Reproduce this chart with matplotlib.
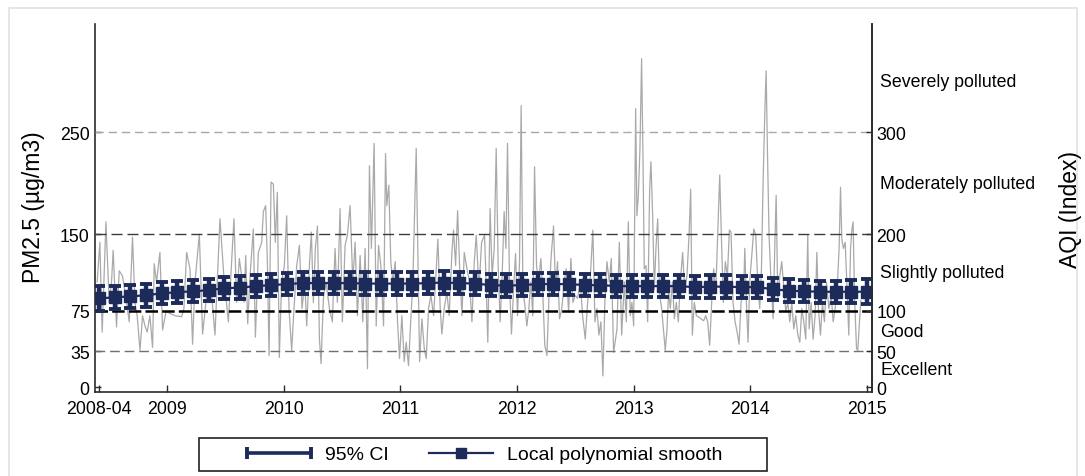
import numpy as np
import matplotlib
matplotlib.use("Agg")
import matplotlib.pyplot as plt
from matplotlib.lines import Line2D
from matplotlib.legend_handler import HandlerLine2D
from matplotlib.patches import Rectangle

plt.rcParams['font.family'] = ['Liberation Sans', 'DejaVu Sans']
plt.rcParams['lines.scale_dashes'] = False

# ---------------- data (PM2.5, decimal years) ----------------
t_2008 = [2008.399, 2008.422, 2008.442, 2008.474, 2008.502, 2008.522, 2008.536, 2008.565, 2008.588, 2008.616,
          2008.642, 2008.674, 2008.702, 2008.723, 2008.742, 2008.766, 2008.788, 2008.809, 2008.828, 2008.851,
          2008.874, 2008.888, 2008.908, 2008.937, 2008.960, 2008.989, 2009.066, 2009.123, 2009.143, 2009.166,
          2009.195, 2009.217, 2009.238, 2009.275, 2009.303, 2009.338, 2009.380, 2009.409, 2009.452, 2009.487]
pm_2008 = [103, 142, 54, 162, 83, 103, 134, 59, 114, 109, 90, 64, 147, 83, 70, 36, 70, 60, 54, 70,
           39, 121, 103, 132, 56, 74, 70, 69, 77, 132, 116, 42, 103, 150, 52, 90, 92, 51, 165, 106]

t_2009 = [2009.524, 2009.552, 2009.572, 2009.595, 2009.618, 2009.638, 2009.658, 2009.673, 2009.690, 2009.710,
          2009.738, 2009.756, 2009.781, 2009.810, 2009.824, 2009.844, 2009.858, 2009.873, 2009.890, 2009.910,
          2009.927, 2009.944, 2009.961, 2009.981, 2010.004, 2010.024, 2010.044, 2010.067, 2010.087, 2010.110,
          2010.133, 2010.156, 2010.179, 2010.196, 2010.219, 2010.236, 2010.253, 2010.270, 2010.288, 2010.305,
          2010.319, 2010.339, 2010.362, 2010.391, 2010.416, 2010.439, 2010.459, 2010.482, 2010.502, 2010.525,
          2010.545, 2010.568, 2010.591]
pm_2009 = [64, 123, 165, 83, 126, 109, 83, 129, 62, 109, 155, 49, 132, 142, 172, 178, 126, 31, 201, 199,
           142, 191, 29, 103, 119, 168, 77, 36, 77, 119, 139, 77, 103, 60, 119, 152, 83, 136, 158, 47,
           23, 87, 103, 77, 64, 136, 83, 175, 64, 139, 149, 178, 103]

t_2010 = [2010.611, 2010.631, 2010.654, 2010.677, 2010.697, 2010.717, 2010.734, 2010.751, 2010.774, 2010.792,
          2010.812, 2010.832, 2010.855, 2010.872, 2010.883, 2010.900, 2010.917, 2010.935, 2010.955, 2010.975,
          2010.992, 2011.012, 2011.032, 2011.049, 2011.069, 2011.089, 2011.106, 2011.123, 2011.135, 2011.149,
          2011.164, 2011.184, 2011.204, 2011.221, 2011.241, 2011.261, 2011.284, 2011.301, 2011.321, 2011.341,
          2011.355, 2011.375, 2011.398, 2011.418, 2011.441, 2011.455, 2011.473, 2011.490, 2011.507, 2011.527,
          2011.547, 2011.570, 2011.593, 2011.613, 2011.633, 2011.650, 2011.673, 2011.696]
pm_2010 = [142, 70, 129, 64, 136, 18, 217, 136, 239, 60, 139, 119, 60, 229, 178, 198, 123, 103, 123, 64,
           28, 70, 25, 44, 21, 67, 103, 178, 234, 136, 25, 67, 38, 28, 77, 90, 70, 103, 145, 77,
           52, 77, 93, 70, 132, 154, 119, 173, 119, 70, 132, 116, 103, 64, 123, 149, 96, 142]

t_2011 = [2011.721, 2011.735, 2011.749, 2011.769, 2011.786, 2011.804, 2011.821, 2011.838, 2011.855, 2011.872,
          2011.889, 2011.904, 2011.918, 2011.935, 2011.952, 2011.970, 2011.987, 2012.004, 2012.021, 2012.035,
          2012.050, 2012.067, 2012.084, 2012.101, 2012.118, 2012.135, 2012.150, 2012.167, 2012.184, 2012.204,
          2012.221, 2012.238, 2012.256, 2012.273, 2012.293, 2012.313, 2012.330, 2012.347, 2012.364, 2012.384,
          2012.404, 2012.421, 2012.442, 2012.462, 2012.479, 2012.499, 2012.519, 2012.542, 2012.562, 2012.585,
          2012.605, 2012.627, 2012.650, 2012.668, 2012.685, 2012.702, 2012.719, 2012.736, 2012.753, 2012.771,
          2012.791, 2012.808, 2012.828]
pm_2011 = [149, 103, 44, 175, 109, 136, 234, 119, 64, 109, 172, 136, 239, 103, 52, 96, 131, 70, 123, 276,
           96, 80, 60, 77, 103, 70, 216, 119, 103, 126, 90, 41, 31, 87, 129, 158, 96, 123, 67, 77,
           103, 116, 74, 126, 83, 90, 87, 103, 70, 47, 83, 106, 154, 64, 77, 51, 64, 11, 83, 123,
           103, 126, 34]

t_2012 = [2012.857, 2012.877, 2012.897, 2012.920, 2012.937, 2012.954, 2012.971, 2012.985, 2013.000, 2013.017,
          2013.028, 2013.040, 2013.054, 2013.068, 2013.080, 2013.091, 2013.106, 2013.120, 2013.137, 2013.148,
          2013.163, 2013.177, 2013.191, 2013.206, 2013.223, 2013.240, 2013.257, 2013.271, 2013.286, 2013.300,
          2013.314, 2013.332, 2013.349, 2013.366, 2013.383, 2013.400, 2013.420, 2013.437, 2013.457, 2013.475,
          2013.489, 2013.503, 2013.520, 2013.538, 2013.555, 2013.578, 2013.600, 2013.618, 2013.635, 2013.652,
          2013.669, 2013.686, 2013.704, 2013.721, 2013.738, 2013.752, 2013.769, 2013.786, 2013.804, 2013.821,
          2013.835, 2013.852, 2013.870, 2013.887, 2013.904, 2013.921, 2013.944]
pm_2012 = [57, 142, 51, 103, 64, 162, 70, 83, 60, 273, 168, 188, 234, 322, 224, 116, 119, 64, 194, 221,
           168, 96, 136, 165, 90, 77, 54, 36, 57, 96, 77, 103, 67, 83, 64, 103, 132, 96, 109, 149,
           194, 51, 83, 70, 69, 67, 65, 70, 64, 41, 83, 116, 93, 149, 208, 149, 83, 123, 109, 154,
           152, 83, 64, 54, 42, 83, 96]

t_2014 = [2013.953, 2013.967, 2013.981, 2013.995, 2014.013, 2014.030, 2014.047, 2014.064, 2014.081, 2014.096,
          2014.110, 2014.124, 2014.136, 2014.147, 2014.161, 2014.178, 2014.196, 2014.210, 2014.222, 2014.236,
          2014.253, 2014.270, 2014.288, 2014.305, 2014.322, 2014.339, 2014.356, 2014.373, 2014.390, 2014.408,
          2014.425, 2014.442, 2014.459, 2014.476, 2014.493, 2014.505, 2014.522, 2014.539, 2014.556, 2014.571,
          2014.585, 2014.602, 2014.619, 2014.636, 2014.654, 2014.674, 2014.694, 2014.711, 2014.728, 2014.745,
          2014.762, 2014.774, 2014.785, 2014.799, 2014.814, 2014.828, 2014.845, 2014.860, 2014.871, 2014.882,
          2014.894, 2014.911, 2014.922, 2014.948]
pm_2014 = [136, 83, 44, 103, 129, 155, 149, 103, 77, 116, 201, 266, 310, 234, 149, 103, 67, 136, 188, 87,
           109, 123, 96, 74, 83, 64, 83, 57, 70, 51, 44, 77, 64, 47, 149, 57, 83, 47, 70, 132,
           77, 51, 83, 64, 103, 77, 90, 64, 77, 96, 136, 196, 145, 136, 142, 103, 51, 136, 154, 162,
           90, 38, 36, 85]

# local polynomial smooth (50 evaluation points from 2008-04 to 2015) and 95% CI half-widths
smooth_start, smooth_end = 2008.415, 2015.0
smooth_pm = [87, 88, 89, 90, 92, 93, 94, 95, 97, 97.5,
             99, 100, 101, 102, 102, 102, 102, 101.5, 101.5, 101.5,
             101.5, 102, 102.5, 102, 101.5, 100, 99.5, 100, 101, 101,
             101, 100, 100, 99, 99, 99, 99, 99, 98, 98.5,
             98.5, 98, 98, 96, 94.5, 94, 93.5, 93.5, 93.5, 93.5]
ci_half = [12, 11.5, 11, 11, 11, 11, 11, 11, 11, 11,
           11, 11, 11, 11, 11, 11, 11, 11, 11, 11,
           11, 11, 11, 11, 11, 11, 11, 11, 11, 11,
           11, 11, 11, 11, 11, 11, 11, 11, 11, 11,
           11, 11, 11, 11, 11, 11, 11, 11, 11.5, 12]

x_tick_pos = [2008.415, 2009, 2010, 2011, 2012, 2013, 2014, 2015]
x_tick_labels = ["2008-04", "2009", "2010", "2011", "2012", "2013", "2014", "2015"]
pm_ticks = [0, 35, 75, 150, 250]
aqi_ticks = [0, 50, 100, 200, 300]
band_labels = ["Excellent", "Good", "Slightly polluted", "Moderately polluted", "Severely polluted"]
band_mid_pm = [17.5, 55, 112.5, 200, 300]

# ---------------- figure ----------------
W, H = 1085, 477
fig = plt.figure(figsize=(W / 100, H / 100), dpi=100)
fig.patch.set_facecolor('white')

# outer light frame
fig.patches.append(Rectangle((9 / W, -0.1), (1077 - 9) / W, 1.1 - 9 / H, transform=fig.transFigure,
                             fill=False, ec='#dde3e8', lw=1.2))

ax = fig.add_axes([94.5 / W, 1 - 393 / H, (872 - 94.5) / W, (393 - 25) / H])
ax.set_xlim(2008.376, 2015.044)
ax.set_ylim(-4.8, 356)

navy = '#1c2b5a'
fs = 12.8

t_all = np.concatenate([t_2008, t_2009, t_2010, t_2011, t_2012, t_2014])
pm_all = np.concatenate([pm_2008, pm_2009, pm_2010, pm_2011, pm_2012, pm_2014])
ax.plot(t_all, pm_all, color='#a9a9a9', lw=0.9, zorder=2)

# reference lines
ax.axhline(250, color='#a8a8a8', lw=1.0, dashes=(6, 3.5), zorder=3)
ax.axhline(150, color='#3c3c3c', lw=1.0, dashes=(8, 3.5), zorder=3)
ax.axhline(75, color='#000000', lw=1.8, dashes=(9, 3), zorder=3)
ax.axhline(35, color='#707070', lw=1.0, dashes=(7, 3.5), zorder=3)

xs = np.linspace(smooth_start, smooth_end, len(smooth_pm))
ax.errorbar(xs, smooth_pm, yerr=ci_half, fmt='s-', color=navy, ms=8, lw=1.6,
            elinewidth=3.2, capsize=4, capthick=2.8, zorder=5)

ax.spines['top'].set_visible(False)
for s in ['left', 'right', 'bottom']:
    ax.spines[s].set_color('#2b2b2b')
    ax.spines[s].set_linewidth(1.2)

ax.set_xticks(x_tick_pos)
ax.set_xticklabels(x_tick_labels)
ax.set_yticks(pm_ticks)
ax.set_yticklabels([str(v) for v in pm_ticks])
ax.tick_params(axis='x', direction='in', length=5, width=1, pad=6, labelsize=fs, colors='#2b2b2b',
               labelcolor='black')
ax.tick_params(axis='y', direction='in', length=4, width=1, pad=3.5, labelsize=fs, colors='#2b2b2b',
               labelcolor='black')

ax2 = ax.twinx()
ax2.set_ylim(ax.get_ylim())
ax2.set_yticks(pm_ticks)
ax2.set_yticklabels([str(v) for v in aqi_ticks])
ax2.tick_params(axis='y', direction='in', length=4, width=1, pad=3, labelsize=fs, colors='#2b2b2b',
                labelcolor='black')
for s in ['top', 'left', 'bottom']:
    ax2.spines[s].set_visible(False)
ax2.spines['right'].set_color('#2b2b2b')
ax2.spines['right'].set_linewidth(1.2)

for lab, y in zip(band_labels, band_mid_pm):
    ax2.annotate(lab, xy=(1, y), xycoords=('axes fraction', 'data'), xytext=(6, 0),
                 textcoords='offset points', ha='left', va='center', fontsize=fs)

fig.text(34 / W, 1 - 207 / H, 'PM2.5 (µg/m3)', rotation=90, ha='center', va='center', fontsize=16.5)
fig.text(1071 / W, 1 - 210 / H, 'AQI (Index)', rotation=90, ha='center', va='center', fontsize=16.5)

# legend
ci_handle = Line2D([], [], color=navy, lw=2.6, marker='|', ms=8.5, mew=2.8)
sm_handle = Line2D([], [], color=navy, lw=1.6, marker='s', ms=7)
leg = fig.legend([ci_handle, sm_handle], ['95% CI', 'Local polynomial smooth'],
                 handler_map={ci_handle: HandlerLine2D(numpoints=2, marker_pad=0),
                              sm_handle: HandlerLine2D(numpoints=1)},
                 ncol=2, frameon=False, loc='center', bbox_to_anchor=(484.5 / W, 1 - 455.5 / H),
                 fontsize=14, handlelength=3.3, handletextpad=0.72, columnspacing=2.06,
                 borderpad=0.2)
fig.patches.append(Rectangle((199 / W, 1 - 472 / H), (767 - 199) / W, (472 - 439) / H,
                             transform=fig.transFigure, fill=False, ec='#222222', lw=1.2))

fig.savefig('out.png', dpi=100, facecolor='white')
